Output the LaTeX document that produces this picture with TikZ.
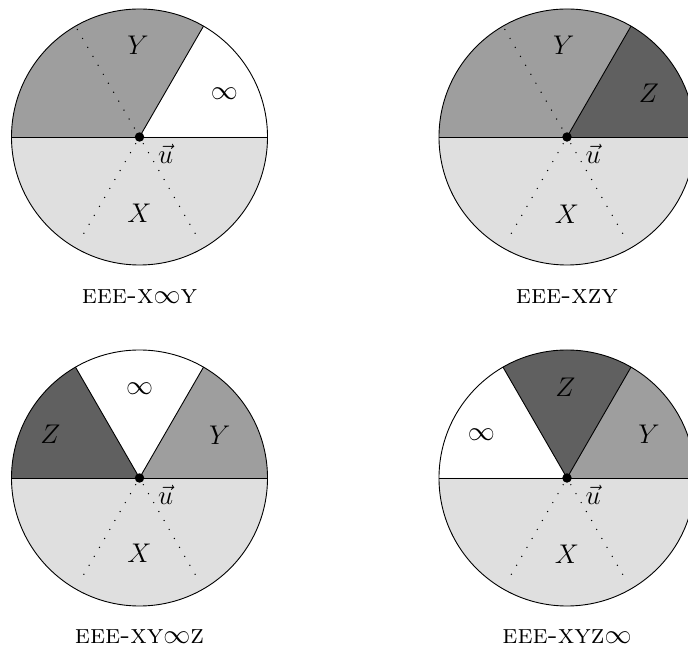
\documentclass[tikz,border=0pt]{standalone}
\usepackage{amsmath}
\definecolor{lgray}{RGB}{223,223,223}
\definecolor{mgray}{RGB}{158,158,158}
\definecolor{dgray}{RGB}{96,96,96}
\begin{document}
\begin{tikzpicture}[x=0.015625cm,y=0.015625cm,
  font=\large,
  dotline/.style={line width=0.65pt, line cap=round, dash pattern=on 0pt off 4.6pt},
  rim/.style={draw=black, line width=0.4pt},
  lbl/.style={inner sep=1pt},
  ctr/.style={circle, fill=black, inner sep=0pt, minimum size=4.2pt},
  capt/.style={inner sep=1pt}]
\useasboundingbox (0,0) rectangle (688,654);

% ---------- top-left: EEE-X inf Y ----------
\begin{scope}[shift={(139.5,517)}]
  \fill[lgray] (0,0) -- (0:2cm) arc[start angle=0,end angle=-180,radius=2cm] -- cycle;
  \fill[mgray] (0,0) -- (60:2cm) arc[start angle=60,end angle=180,radius=2cm] -- cycle;
  \draw[dotline] (0,0) -- (120:2cm);
  \draw[dotline] (240:0.12cm) -- (240:1.87cm);
  \draw[dotline] (300:0.12cm) -- (300:1.87cm);
  \draw[rim] (0,0) circle[radius=2cm];
  \draw[rim] (180:2cm) -- (0:2cm);
  \draw[rim] (0,0) -- (60:2cm);
  \node[ctr] (o1) at (0,0) {};
  \node[lbl] (y1) at (91:1.43cm) {$Y$};
  \node[lbl] (i1) at (27:1.49cm) {$\infty$};
  \node[lbl] (x1) at (270:1.19cm) {$X$};
  \node[lbl] (u1) at (0.41cm,-0.26cm) {$\vec{u}$};
  \node[capt] (c1) at (0,-2.5cm) {\textsc{eee-x}$\infty$\textsc{y}};
\end{scope}

% ---------- top-right: EEE-XZY ----------
\begin{scope}[shift={(567,517)}]
  \fill[lgray] (0,0) -- (0:2cm) arc[start angle=0,end angle=-180,radius=2cm] -- cycle;
  \fill[mgray] (0,0) -- (60:2cm) arc[start angle=60,end angle=180,radius=2cm] -- cycle;
  \fill[dgray] (0,0) -- (0:2cm) arc[start angle=0,end angle=60,radius=2cm] -- cycle;
  \draw[dotline] (0,0) -- (120:2cm);
  \draw[dotline] (240:0.12cm) -- (240:1.87cm);
  \draw[dotline] (300:0.12cm) -- (300:1.87cm);
  \draw[rim] (0,0) circle[radius=2cm];
  \draw[rim] (180:2cm) -- (0:2cm);
  \draw[rim] (0,0) -- (60:2cm);
  \node[ctr] (o2) at (0,0) {};
  \node[lbl] (y2) at (92:1.43cm) {$Y$};
  \node[lbl] (z2) at (28:1.45cm) {$Z$};
  \node[lbl] (x2) at (270:1.2cm) {$X$};
  \node[lbl] (u2) at (0.41cm,-0.26cm) {$\vec{u}$};
  \node[capt] (c2) at (0,-2.5cm) {\textsc{eee-xzy}};
\end{scope}

% ---------- bottom-left: EEE-XY inf Z ----------
\begin{scope}[shift={(139.5,176)}]
  \fill[lgray] (0,0) -- (0:2cm) arc[start angle=0,end angle=-180,radius=2cm] -- cycle;
  \fill[mgray] (0,0) -- (0:2cm) arc[start angle=0,end angle=60,radius=2cm] -- cycle;
  \fill[dgray] (0,0) -- (120:2cm) arc[start angle=120,end angle=180,radius=2cm] -- cycle;
  \draw[dotline] (240:0.12cm) -- (240:1.87cm);
  \draw[dotline] (300:0.12cm) -- (300:1.87cm);
  \draw[rim] (0,0) circle[radius=2cm];
  \draw[rim] (180:2cm) -- (0:2cm);
  \draw[rim] (0,0) -- (60:2cm);
  \draw[rim] (0,0) -- (120:2cm);
  \node[ctr] (o3) at (0,0) {};
  \node[lbl] (i3) at (90:1.4cm) {$\infty$};
  \node[lbl] (z3) at (154:1.55cm) {$Z$};
  \node[lbl] (y3) at (28:1.42cm) {$Y$};
  \node[lbl] (x3) at (270:1.18cm) {$X$};
  \node[lbl] (u3) at (0.41cm,-0.27cm) {$\vec{u}$};
  \node[capt] (c3) at (0,-2.48cm) {\textsc{eee-xy}$\infty$\textsc{z}};
\end{scope}

% ---------- bottom-right: EEE-XYZ inf ----------
\begin{scope}[shift={(567,176)}]
  \fill[lgray] (0,0) -- (0:2cm) arc[start angle=0,end angle=-180,radius=2cm] -- cycle;
  \fill[mgray] (0,0) -- (0:2cm) arc[start angle=0,end angle=60,radius=2cm] -- cycle;
  \fill[dgray] (0,0) -- (60:2cm) arc[start angle=60,end angle=120,radius=2cm] -- cycle;
  \draw[dotline] (240:0.12cm) -- (240:1.87cm);
  \draw[dotline] (300:0.12cm) -- (300:1.87cm);
  \draw[rim] (0,0) circle[radius=2cm];
  \draw[rim] (180:2cm) -- (0:2cm);
  \draw[rim] (0,0) -- (60:2cm);
  \draw[rim] (0,0) -- (120:2cm);
  \node[ctr] (o4) at (0,0) {};
  \node[lbl] (z4) at (91:1.42cm) {$Z$};
  \node[lbl] (i4) at (153:1.5cm) {$\infty$};
  \node[lbl] (y4) at (28:1.45cm) {$Y$};
  \node[lbl] (x4) at (270:1.19cm) {$X$};
  \node[lbl] (u4) at (0.41cm,-0.27cm) {$\vec{u}$};
  \node[capt] (c4) at (0,-2.48cm) {\textsc{eee-xyz}$\infty$};
\end{scope}
\end{tikzpicture}
\end{document}
